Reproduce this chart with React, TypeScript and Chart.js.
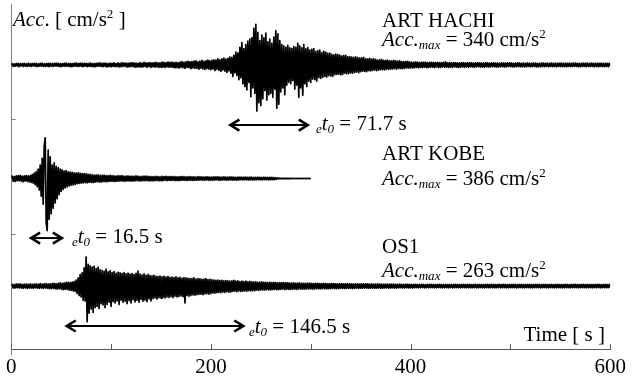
import React, { useEffect, useRef } from 'react';
import { Chart, registerables } from 'chart.js';

Chart.register(...registerables);

// ---- data (accelerations in cm/s², one sample every STEP seconds) ----
const STEP = 1;

const hachi = [
  0, 9, -11, 7, -10, 12, -8, 11, -13, 9, -7, 10, -12, 11, -9, 8, -11, 13, -10, 9,
  -12, 10, -8, 11, -9, 12, -13, 8, -10, 11, -9, 13, -11, 8, -12, 10, -9, 11, -13, 12,
  -10, 9, -12, 11, -8, 13, -10, 12, -11, 9, -13, 10, -9, 12, -11, 14, -10, 9, -12, 11,
  -13, 10, -11, 12, -9, 14, -12, 10, -11, 13, -10, 12, -14, 11, -9, 12, -13, 10, -11, 14,
  -12, 11, -13, 10, -14, 12, -11, 13, -10, 15, -12, 11, -13, 14, -11, 12, -15, 10, -12, 13,
  -14, 12, -11, 15, -13, 10, -12, 14, -15, 11, -13, 16, -12, 14, -11, 13, -16, 12, -14, 15,
  -13, 16, -12, 14, -17, 13, -15, 12, -14, 17, -16, 13, -15, 18, -12, 14, -17, 15, -13, 16,
  -18, 15, -14, 17, -16, 19, -15, 14, -18, 16, -17, 20, -15, 18, -19, 16, -14, 21, -17, 18,
  -16, 20, -19, 17, -22, 18, -20, 16, -23, 21, -18, 24, -20, 19, -25, 22, -19, 26, -21, 23,
  -27, 24, -22, 28, -25, 30, -26, 23, -31, 27, -24, 33, -29, 26, -34, 30, -28, 35, -32, 29,
  -36, 33, -30, 38, -42, 35, -33, 45, -40, 37, -48, 44, -38, 50, -46, 42, -55, 48, -44, 58,
  -62, 55, -86, 70, -60, 95, -78, 88, -110, 130, -95, 165, -140, 120, -160, 150, -185, 175, -130, 190,
  -235, 200, -170, 270, -210, 300, -340, 240, -280, 180, -300, 220, -250, 200, -190, 235, -260, 170, -220, 190,
  -210, 160, -240, 205, -180, 253, -320, 230, -290, 180, -200, 150, -170, 140, -220, 130, -150, 145, -130, 125,
  -140, 120, -115, 135, -180, 130, -150, 160, -240, 140, -170, 125, -225, 150, -140, 118, -160, 128, -120, 110,
  -130, 115, -105, 120, -110, 98, -120, 105, -95, 110, -100, 90, -92, 100, -85, 95, -90, 85, -80, 88,
  -82, 78, -85, 75, -72, 80, -70, 76, -68, 72, -74, 65, -70, 68, -62, 70, -66, 60, -64, 62,
  -60, 58, -62, 55, -56, 60, -52, 54, -58, 50, -50, 52, -46, 55, -48, 45, -50, 44, -42, 48,
  -44, 42, -40, 45, -38, 40, -42, 36, -39, 38, -35, 40, -36, 34, -38, 33, -32, 36, -34, 30,
  -32, 30, -29, 33, -28, 30, -31, 27, -26, 29, -28, 25, -27, 24, -26, 25, -23, 26, -24, 22,
  -22, 20, -23, 19, -21, 22, -18, 20, -22, 17, -19, 21, -20, 18, -17, 20, -21, 16, -18, 19,
  -17, 19, -16, 18, -20, 17, -15, 19, -18, 16, -19, 17, -15, 18, -17, 22, -16, 15, -18, 17,
  -16, 15, -18, 17, -14, 16, -17, 15, -19, 14, -16, 17, -15, 16, -18, 14, -15, 17, -16, 15,
  -14, 16, -15, 13, -17, 15, -14, 16, -13, 15, -16, 14, -15, 13, -17, 15, -14, 16, -15, 13,
  -15, 14, -13, 16, -14, 13, -16, 14, -15, 12, -14, 15, -13, 14, -16, 13, -14, 15, -12, 14,
  -13, 15, -14, 12, -15, 13, -12, 14, -13, 15, -14, 12, -13, 14, -15, 12, -13, 14, -12, 13,
  -14, 12, -13, 14, -11, 13, -15, 12, -13, 11, -14, 13, -12, 14, -13, 12, -11, 13, -14, 12,
  -12, 14, -13, 11, -12, 13, -14, 12, -11, 13, -12, 14, -13, 11, -12, 13, -14, 12, -11, 13,
  -13, 12, -11, 14, -12, 13, -11, 12, -14, 11, -13, 12, -12, 13, -11, 12, -13, 14, -12, 11,
  -12, 13, -11, 12, -13, 11, -12, 13, -14, 12, -11, 13, -12, 11, -13, 12, -11, 12, -13, 11,
  -10,
];

const kobe = [
  0, 18, -20, 15, -22, 19, -16, 21, -18, 23, -19, 17, -24, 20, -18, 22, -21, 19, -25, 22,
  -28, 30, -35, 40, -45, 52, -60, 70, -85, 100, -130, 150, -190, 240, 300, -330, -386, 210, -300, 160,
  -260, 100, -220, 115, -180, 90, -150, 80, -120, 70, -95, 65, -80, 55, -70, 58, -62, 50, -55, 48,
  -50, 45, -48, 42, -44, 40, -38, 42, -36, 38, -35, 37, -33, 36, -31, 34, -32, 30, -29, 31,
  -28, 27, -30, 25, -27, 26, -24, 27, -25, 23, -26, 24, -22, 25, -23, 21, -24, 22, -21, 23,
  -20, 22, -21, 19, -22, 18, -20, 21, -19, 20, -18, 21, -19, 17, -20, 18, -17, 19, -18, 17,
  -19, 17, -18, 16, -17, 19, -16, 18, -17, 15, -18, 16, -15, 17, -16, 18, -15, 16, -17, 15,
  -16, 15, -17, 14, -15, 16, -14, 15, -16, 13, -15, 16, -14, 15, -13, 16, -15, 14, -13, 15,
  -14, 15, -13, 14, -15, 13, -14, 12, -15, 14, -13, 15, -12, 14, -13, 12, -14, 13, -12, 14,
  -13, 12, -14, 13, -12, 11, -13, 14, -12, 13, -11, 12, -13, 11, -12, 13, -11, 12, -13, 11,
  -12, 11, -13, 12, -11, 12, -10, 13, -12, 11, -12, 10, -11, 12, -10, 11, -12, 10, -11, 12,
  -10, 11, -12, 10, -11, 9, -12, 11, -10, 11, -9, 10, -11, 10, -9, 11, -10, 9, -11, 10,
  -9, 10, -11, 9, -10, 8, -9, 10, -8, 9, -10, 8, -9, 10, -8, 9, -9, 8, -10, 9,
  -8, 9, -8, 7, -8, 6, -5, 4, -3, 3, -2, 2, -2, 1, -1, 1, -1, 1, -1, 1,
  -1, 1, 0, 1, -1, 0, 1, -1, 0, 1, -1, 0, 1, -1, 0, 1, -1, 0, 1, -1,
  0,
];

const os1 = [
  0, 13, -15, 11, -14, 16, -12, 15, -13, 17, -14, 12, -16, 14, -13, 15, -17, 13, -14, 16,
  -15, 13, -16, 14, -12, 17, -15, 13, -16, 18, -14, 15, -17, 16, -13, 18, -16, 14, -18, 17,
  -19, 18, -16, 21, -20, 17, -23, 20, -19, 24, -22, 21, -26, 23, -25, 28, -24, 27, -30, 26,
  -32, 30, -36, 34, -40, 45, -55, 60, -70, 85, -80, 98, -105, 135, -110, 214, -263, 160, -200, 150,
  -170, 140, -195, 145, -160, 130, -150, 140, -165, 120, -130, 115, -140, 110, -160, 125, -135, 105, -120, 115,
  -150, 100, -115, 108, -125, 95, -110, 102, -135, 98, -105, 92, -120, 100, -112, 90, -130, 96, -108, 88,
  -125, 92, -100, 85, -118, 95, -105, 110, -120, 88, -98, 82, -112, 90, -104, 80, -115, 86, -95, 78,
  -110, 75, -92, 80, -88, 72, -96, 70, -85, 74, -90, 68, -82, 72, -88, 66, -80, 70, -84, 64,
  -78, 66, -85, 62, -74, 68, -80, 60, -76, 64, -72, 58, -78, 62, -125, 60, -70, 58, -74, 56,
  -70, 55, -66, 60, -68, 52, -64, 56, -62, 54, -60, 50, -64, 52, -58, 55, -56, 48, -60, 50,
  -55, 46, -50, 44, -52, 42, -48, 45, -46, 40, -48, 42, -44, 38, -46, 40, -42, 38, -45, 36,
  -44, 38, -40, 42, -38, 36, -42, 38, -36, 34, -40, 36, -38, 33, -35, 36, -37, 32, -34, 35,
  -36, 32, -34, 30, -33, 31, -30, 28, -32, 30, -29, 31, -28, 27, -30, 28, -27, 26, -29, 27,
  -28, 26, -27, 28, -25, 26, -27, 24, -26, 25, -24, 26, -23, 25, -26, 24, -23, 25, -24, 22,
  -25, 23, -22, 24, -23, 21, -24, 22, -21, 23, -22, 20, -23, 21, -22, 20, -21, 22, -20, 21,
  -21, 20, -22, 19, -20, 21, -19, 20, -21, 18, -20, 19, -18, 20, -19, 18, -20, 17, -19, 18,
  -19, 18, -17, 19, -18, 17, -19, 16, -18, 17, -16, 18, -17, 16, -18, 17, -16, 18, -17, 16,
  -17, 16, -18, 15, -16, 17, -15, 16, -17, 15, -16, 17, -15, 16, -14, 16, -15, 17, -16, 15,
  -15, 16, -14, 15, -16, 14, -15, 16, -14, 15, -16, 14, -15, 13, -14, 15, -13, 14, -15, 14,
  -14, 15, -13, 14, -15, 13, -14, 12, -13, 14, -12, 13, -14, 12, -13, 14, -12, 13, -14, 13,
  -13, 12, -14, 13, -12, 13, -11, 12, -13, 12, -12, 13, -11, 12, -13, 11, -12, 13, -11, 12,
  -12, 13, -11, 12, -13, 11, -12, 12, -11, 13, -12, 11, -13, 12, -11, 12, -12, 11, -13, 12,
  -11, 12, -13, 11, -12, 13, -11, 12, -12, 11, -13, 12, -11, 13, -12, 11, -12, 13, -11, 12,
  -13, 11, -12, 12, -11, 13, -12, 11, -13, 12, -11, 12, -12, 11, -13, 12, -11, 13, -12, 11,
  -12, 13, -11, 12, -13, 11, -12, 12, -11, 13, -12, 11, -12, 13, -11, 12, -13, 11, -12, 12,
  -11, 12, -12, 13, -11, 12, -13, 11, -12, 12, -11, 13, -12, 11, -13, 12, -11, 12, -12, 13,
  -12, 11, -13, 12, -11, 12, -12, 13, -11, 12, -13, 11, -12, 12, -11, 13, -12, 11, -13, 12,
  -11, 12, -12, 11, -13, 12, -11, 13, -12, 11, -12, 12, -13, 11, -12, 13, -11, 12, -12, 11,
  -13, 12, -11, 12, -12, 13, -11, 12, -13, 11, -12, 12, -11, 13, -12, 11, -13, 12, -11, 12,
  -12, 11, -13, 12, -11, 12, -12, 13, -11, 12, -13, 11, -12, 12, -11, 13, -12, 11, -12, 12,
  -11,
];

const stationNames = ['ART HACHI', 'ART KOBE', 'OS1'];
const peakAcc = [340, 386, 263];
const durations = [71.7, 16.5, 146.5];
const arrowStart = [218.5, 18.9, 54.6];
const arrowEnd = [298, 51.7, 233.4];
const traceOffset = [2100, 1260, 465];
const arrowLevel = [1655, 820, 170];

const xTickValues = [0, 100, 200, 300, 400, 500, 600];
const xLabelValues = [0, 200, 400, 600];
const yTickValues = [850, 1700];
const Y_MIN = 0;
const Y_MAX = 2550;

const FONT = '"Liberation Serif", "Times New Roman", Times, serif';
const FS = 21;

type Seg = { t: string; it?: boolean; sc?: number; dy?: number };

function drawRich(ctx: CanvasRenderingContext2D, x: number, y: number, segs: Seg[], align: 'left' | 'right' = 'left') {
  const widths = segs.map((s) => {
    ctx.font = `${s.it ? 'italic ' : ''}${FS * (s.sc ?? 1)}px ${FONT}`;
    return ctx.measureText(s.t).width;
  });
  const total = widths.reduce((a, b) => a + b, 0);
  let cx = align === 'left' ? x : x - total;
  segs.forEach((s, i) => {
    ctx.font = `${s.it ? 'italic ' : ''}${FS * (s.sc ?? 1)}px ${FONT}`;
    ctx.fillText(s.t, cx, y + (s.dy ?? 0) * FS);
    cx += widths[i];
  });
}

const maxSegs = (v: number): Seg[] => [
  { t: 'Acc.', it: true },
  { t: 'max', it: true, sc: 0.62, dy: 0.14 },
  { t: ` = ${v} cm/s` },
  { t: '2', sc: 0.62, dy: -0.4 },
];
const t0Segs = (v: number): Seg[] => [
  { t: 'e', it: true, sc: 0.62, dy: 0.16 },
  { t: 't', it: true },
  { t: '0', it: true, sc: 0.62, dy: 0.16 },
  { t: ` = ${v} s` },
];

const annotPlugin = {
  id: 'annot',
  afterDraw(chart: any) {
    const ctx: CanvasRenderingContext2D = chart.ctx;
    const xs = chart.scales.x;
    const ys = chart.scales.y;
    const area = chart.chartArea;
    ctx.save();
    // inner tick marks on x axis
    ctx.strokeStyle = '#595959';
    ctx.lineWidth = 1;
    xTickValues.forEach((v) => {
      const px = Math.round(xs.getPixelForValue(v)) + 0.5;
      ctx.beginPath();
      ctx.moveTo(px, area.bottom);
      ctx.lineTo(px, area.bottom - 5);
      ctx.stroke();
    });
    // y axis extends below x axis, with small tick marks
    ctx.strokeStyle = '#7f7f7f';
    ctx.beginPath();
    const lx = Math.round(area.left) + 0.5;
    ctx.moveTo(lx, area.bottom);
    ctx.lineTo(lx, area.bottom + 6);
    ctx.stroke();
    yTickValues.forEach((v) => {
      const py = Math.round(ys.getPixelForValue(v)) + 0.5;
      ctx.beginPath();
      ctx.moveTo(lx, py);
      ctx.lineTo(lx + 4, py);
      ctx.stroke();
    });

    // arrows
    ctx.strokeStyle = '#000';
    ctx.lineCap = 'butt';
    arrowStart.forEach((s, i) => {
      const x1 = xs.getPixelForValue(s);
      const x2 = xs.getPixelForValue(arrowEnd[i]);
      const y = ys.getPixelForValue(arrowLevel[i]);
      ctx.lineWidth = 2;
      ctx.beginPath();
      ctx.moveTo(x1 + 1, y);
      ctx.lineTo(x2 - 1, y);
      ctx.stroke();
      ctx.lineWidth = 2.6;
      ctx.lineJoin = 'miter';
      ctx.beginPath();
      ctx.moveTo(x1 + 10, y - 5.5);
      ctx.lineTo(x1 + 1, y);
      ctx.lineTo(x1 + 10, y + 5.5);
      ctx.stroke();
      ctx.beginPath();
      ctx.moveTo(x2 - 10, y - 5.5);
      ctx.lineTo(x2 - 1, y);
      ctx.lineTo(x2 - 10, y + 5.5);
      ctx.stroke();
    });

    // texts
    ctx.fillStyle = '#000';
    ctx.textBaseline = 'alphabetic';
    ctx.textAlign = 'left';
    drawRich(ctx, 13, 26, [
      { t: 'Acc', it: true },
      { t: '. [ cm/s' },
      { t: '2', sc: 0.62, dy: -0.4 },
      { t: ' ]' },
    ]);
    const nameY = [27, 160, 253];
    const maxY = [46, 185, 277];
    stationNames.forEach((n, i) => {
      drawRich(ctx, 382, nameY[i], [{ t: n }]);
      drawRich(ctx, 382, maxY[i], maxSegs(peakAcc[i]));
    });
    const t0X = [316, 72, 249];
    const t0Y = [130, 243, 333];
    durations.forEach((d, i) => {
      drawRich(ctx, t0X[i], t0Y[i], t0Segs(d));
    });
    drawRich(ctx, 605, 341, [{ t: 'Time [ s ]' }], 'right');
    ctx.restore();
  },
};

function toPoints(arr: number[], offset: number) {
  return arr.map((v, i) => ({ x: i * STEP, y: offset + v }));
}

export default function App() {
  const ref = useRef<HTMLCanvasElement | null>(null);
  useEffect(() => {
    if (!ref.current) return;
    const series = [hachi, kobe, os1];
    const chart = new Chart(ref.current, {
      type: 'line',
      data: {
        datasets: series.map((arr, i) => ({
          label: stationNames[i],
          data: toPoints(arr, traceOffset[i]),
          borderColor: '#000',
          borderWidth: 1.7,
          borderJoinStyle: 'round' as const,
          pointRadius: 0,
          tension: 0,
          fill: false,
        })),
      },
      options: {
        animation: false,
        responsive: true,
        maintainAspectRatio: false,
        devicePixelRatio: 1,
        events: [],
        layout: { padding: { top: 4, right: 18, left: 0, bottom: 0 } },
        plugins: { legend: { display: false }, tooltip: { enabled: false }, title: { display: false } },
        scales: {
          x: {
            type: 'linear',
            min: 0,
            max: 600,
            afterFit: (s: any) => {
              s.height = 36;
            },
            afterBuildTicks: (s: any) => {
              s.ticks = xTickValues.map((v) => ({ value: v }));
            },
            ticks: {
              autoSkip: false,
              maxRotation: 0,
              minRotation: 0,
              padding: 6,
              color: '#000',
              font: { family: FONT, size: FS },
              callback: (v: any) => (xLabelValues.includes(Number(v)) ? String(v) : ''),
            },
            grid: { display: false, drawTicks: false },
            border: { display: true, color: '#595959', width: 1 },
          },
          y: {
            type: 'linear',
            min: Y_MIN,
            max: Y_MAX,
            afterFit: (s: any) => {
              s.width = 10;
            },
            ticks: { display: false, stepSize: 850 },
            grid: { display: false, drawTicks: false },
            border: { display: true, color: '#7f7f7f', width: 1 },
          },
        },
      },
      plugins: [annotPlugin],
    });
    return () => chart.destroy();
  }, []);
  return (
    <div style={{ position: 'fixed', left: 0, top: 0, width: 632, height: 385, background: '#fff' }}>
      <canvas ref={ref} />
    </div>
  );
}
